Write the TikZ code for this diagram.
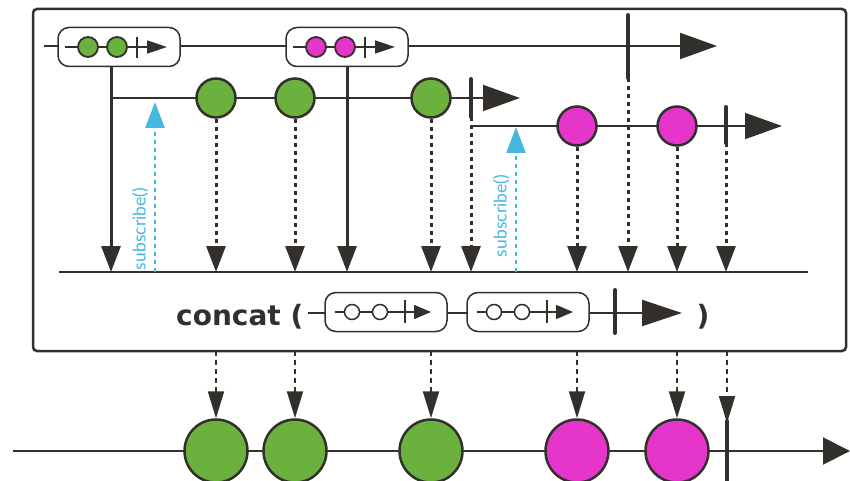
\documentclass[tikz,border=0pt]{standalone}
\usepackage{fontspec}
\setmainfont{DejaVu Sans}
\newfontfamily\thinfont{Lato}
\usetikzlibrary{arrows.meta}

\definecolor{ink}{HTML}{33302C}
\definecolor{leaf}{HTML}{6AB13D}
\definecolor{fuchsia}{HTML}{E535CB}
\definecolor{sky}{HTML}{45B8E0}

\tikzset{
    stream/.style={draw=ink, line width=2pt},
    bigtip/.style={-{Triangle[length=37pt,width=26pt]}},
    droptip/.style={-{Triangle[length=26pt,width=19pt]}},
    marble/.style={circle, draw=ink, line width=2.5pt, minimum size=39pt, inner sep=0pt},
    bigmarble/.style={marble, minimum size=63pt},
    tinymarble/.style={circle, draw=ink, line width=1.8pt, minimum size=20pt, inner sep=0pt},
    hollow/.style={circle, draw=ink, line width=1.5pt, fill=white, minimum size=15pt, inner sep=0pt},
    streambox/.style={draw=ink, rounded corners=11pt, line width=1.5pt, fill=white,
        minimum width=122pt, minimum height=39pt, inner sep=0pt},
    endbar/.style={draw=ink, line width=4pt, line cap=round},
    dotdrop/.style={draw=ink, line width=3pt, dash pattern=on 4pt off 4pt, droptip},
    dashdrop/.style={draw=ink, line width=2pt, dash pattern=on 5pt off 4pt,
        -{Triangle[length=27pt,width=16pt]}},
    subdrop/.style={draw=sky, line width=2.5pt, dash pattern=on 4pt off 4pt,
        -{Triangle[length=26pt,width=19pt]}},
    sublabel/.style={sky, rotate=90, font=\thinfont\fontsize{17.5}{17.5}\selectfont}
}

\begin{document}
\begin{tikzpicture}[x=1pt,y=-1pt]
    \useasboundingbox (0,0) rectangle (850,481);
    \clip (0,0) rectangle (850,481);

    % operator frame
    \draw[ink, line width=2.5pt, rounded corners=4pt] (33,9) rectangle (846,351);
    \coordinate (fbot) at (0,351);

    % outer stream of streams
    \coordinate (ostart) at (44,46);
    \coordinate (oend) at (717,46);
    \draw[stream, bigtip] (ostart) -- (oend);
    \node[streambox] (boxA) at (119,47) {};
    \node[streambox] (boxB) at (347,47) {};
    \foreach \bx/\col in {119/leaf, 347/fuchsia} {
        \draw[stream, line width=1.5pt, -{Triangle[length=20pt,width=13pt]}] (\bx-54,47) -- (\bx+48,47);
        \node[tinymarble, fill=\col] at (\bx-31,47) {};
        \node[tinymarble, fill=\col] at (\bx-2,47) {};
        \draw[ink, line width=2.5pt] (\bx+18,37) -- (\bx+18,58);
    }
    \draw[endbar] (628,15) -- (628,78) coordinate (oendfoot);

    % joined line
    \coordinate (jl) at (59,272);
    \coordinate (jr) at (808,272);
    \draw[ink, line width=2.5pt] (jl) -- (jr);

    % first inner stream
    \coordinate (gstart) at (111,98);
    \coordinate (gend) at (520,98);
    \draw[stream, bigtip] (gstart) -- (gend);
    \foreach \x [count=\i] in {216,295,431}
        \node[marble, fill=leaf] (g\i) at (\x,98) {};
    \draw[endbar] (471,79) -- (471,117) coordinate (gfoot);

    % second inner stream
    \coordinate (mstart) at (473,126);
    \coordinate (mend) at (782,126);
    \draw[stream, bigtip] (mstart) -- (mend);
    \foreach \x [count=\i] in {577,677}
        \node[marble, fill=fuchsia] (m\i) at (\x,126) {};
    \draw[endbar] (726,107) -- (726,143) coordinate (mfoot);

    % emissions of the outer stream
    \draw[ink, line width=3pt, droptip] (boxA.south -| gstart) -- (gstart |- jl);
    \draw[ink, line width=3pt, droptip] (boxB.south) -- (boxB.south |- jl);

    % subscriptions
    \draw[subdrop] (155,272) coordinate (sub1) -- (155,102);
    \node[sublabel] at (140,229) {subscribe()};
    \draw[subdrop] (516,272) coordinate (sub2) -- (516,127);
    \node[sublabel] at (501,216) {subscribe()};

    % items down to the joined line
    \foreach \n in {g1,g2,g3,m1,m2}
        \draw[dotdrop] (\n.south) -- (\n.south |- jl);
    \foreach \n in {gfoot,oendfoot,mfoot}
        \draw[dotdrop] (\n) -- (\n |- jl);

    % operator label
    \coordinate (cstart) at (308,313);
    \coordinate (cend) at (682,313);
    \draw[stream, -{Triangle[length=40pt,width=26pt]}] (cstart) -- (cend);
    \node[ink, anchor=base west, inner sep=0pt, font=\bfseries\fontsize{28}{28}\selectfont] (concat) at (176,325) {concat (};
    \node[ink, anchor=base, inner sep=0pt, font=\bfseries\fontsize{28}{28}\selectfont] (close) at (703,325) {)};
    \node[streambox] (boxC) at (386,312) {};
    \node[streambox] (boxD) at (528,312) {};
    \foreach \bx in {386,528} {
        \draw[stream, line width=1.5pt, -{Triangle[length=17pt,width=14pt]}] (\bx-51,312) -- (\bx+45,312);
        \node[hollow] at (\bx-34,312) {};
        \node[hollow] at (\bx-6,312) {};
        \draw[ink, line width=2pt] (\bx+19,300) -- (\bx+19,323);
    }
    \draw[endbar] (615,290) -- (615,333);

    % result stream
    \coordinate (rstart) at (13,451);
    \coordinate (rend) at (850,451);
    \draw[stream, -{Triangle[length=27pt,width=27pt]}] (rstart) -- (rend);
    \foreach \x/\col [count=\i] in {216/leaf,295/leaf,431/leaf,577/fuchsia,677/fuchsia}
        \node[bigmarble, fill=\col] (r\i) at (\x,451) {};
    \draw[endbar] (727,421) coordinate (rbar) -- (727,490);

    % items out of the operator
    \foreach \n in {r1,r2,r3,r4,r5}
        \draw[dashdrop] (\n.north |- fbot) -- (\n.north);
    \draw[dashdrop] (rbar |- fbot) -- ([yshift=-2pt]rbar);
\end{tikzpicture}
\end{document}
